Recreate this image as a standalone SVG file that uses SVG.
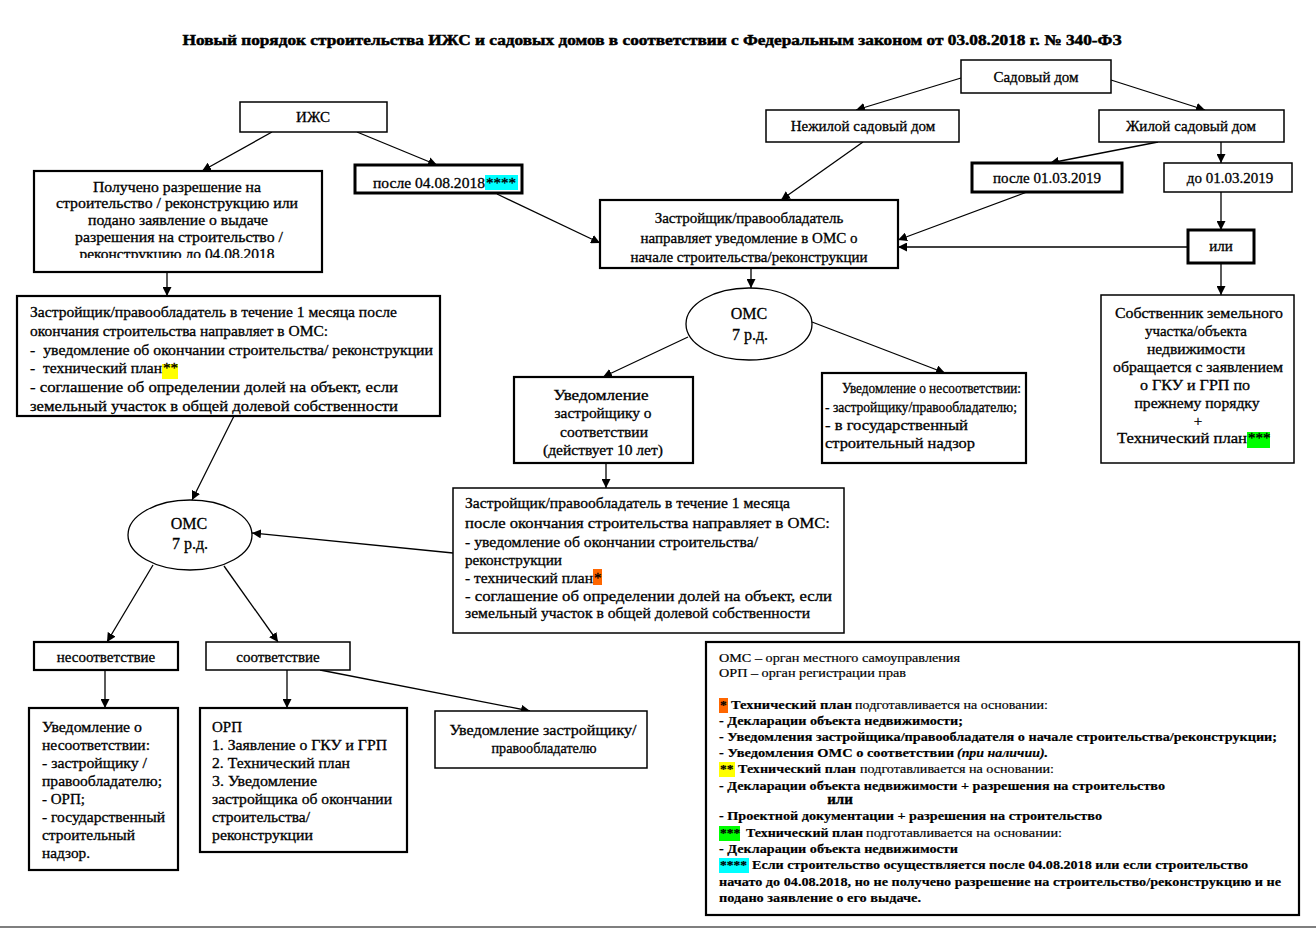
<svg xmlns="http://www.w3.org/2000/svg" width="1316" height="930" viewBox="0 0 1316 930">
<style>
text{font-family:"Liberation Serif","Times New Roman",serif;font-size:15px;fill:#000;stroke:#000;stroke-width:0.3}
.c{text-anchor:middle}
.b{font-weight:bold}
.i{font-style:italic}
.box{fill:#fff;stroke:#000;stroke-width:1.5}
.box2{fill:#fff;stroke:#000;stroke-width:2.2}
.thick{fill:#fff;stroke:#000;stroke-width:3}
.ell{fill:#fff;stroke:#000;stroke-width:1.3}
.con line{stroke:#000;stroke-width:1.3;marker-end:url(#ah)}
.lg{font-size:13.5px;stroke-width:0.2}
.om{font-size:16px}
.ttl{stroke-width:0.5}
</style>
<defs>
<marker id="ah" viewBox="0 0 10 10" refX="10" refY="5" markerWidth="9" markerHeight="9" markerUnits="userSpaceOnUse" orient="auto"><path d="M0,0 L10,5 L0,10 z" fill="#000"/></marker>
<clipPath id="clipP"><rect x="34" y="171" width="288" height="87"/></clipPath>
</defs>
<rect x="0" y="0" width="1316" height="930" fill="#fff"/>
<text class="c b ttl" x="652" y="45" font-size="17" textLength="939" lengthAdjust="spacingAndGlyphs">Новый порядок строительства ИЖС и садовых домов в соответствии с Федеральным законом от 03.08.2018 г. № 340-ФЗ</text>
<line x1="0" y1="927" x2="1316" y2="927" stroke="#555" stroke-width="1.5"/>

<g id="connectors" class="con">
<line x1="272" y1="132" x2="202" y2="171"/>
<line x1="357" y1="132" x2="437" y2="165"/>
<line x1="497" y1="194" x2="600" y2="243"/>
<line x1="961" y1="78" x2="856" y2="110"/>
<line x1="1111" y1="80" x2="1205" y2="110"/>
<line x1="863" y1="142" x2="781" y2="200"/>
<line x1="1158" y1="142" x2="1050" y2="163"/>
<line x1="1221" y1="142" x2="1221" y2="163"/>
<line x1="1027" y1="192" x2="898" y2="240"/>
<line x1="1221" y1="192" x2="1221" y2="230"/>
<line x1="1188" y1="247" x2="898" y2="247"/>
<line x1="1221" y1="263" x2="1221" y2="295"/>
<line x1="751" y1="268" x2="751" y2="288"/>
<line x1="688" y1="337" x2="603" y2="377"/>
<line x1="812" y1="322" x2="945" y2="373"/>
<line x1="606" y1="463" x2="606" y2="488"/>
<line x1="453" y1="553" x2="252" y2="533"/>
<line x1="167" y1="272" x2="167" y2="296"/>
<line x1="234" y1="416" x2="192" y2="500"/>
<line x1="153" y1="565" x2="107" y2="642"/>
<line x1="224" y1="566" x2="278" y2="642"/>
<line x1="105" y1="670" x2="105" y2="708"/>
<line x1="287" y1="670" x2="287" y2="708"/>
<line x1="320" y1="670" x2="530" y2="711"/>
</g>

<g id="sad"><rect class="box" x="961" y="60" width="150" height="33"/><text class="c" x="1036" y="82">Садовый дом</text></g>
<g id="nezh"><rect class="box" x="766" y="110" width="193" height="32"/><text class="c" x="863" y="131">Нежилой садовый дом</text></g>
<g id="zhil"><rect class="box" x="1099" y="110" width="185" height="32"/><text class="c" x="1191" y="131">Жилой садовый дом</text></g>
<g id="posle2019"><rect class="thick" x="972" y="163" width="150" height="29"/><text class="c" x="1047" y="183">после 01.03.2019</text></g>
<g id="do2019"><rect class="box" x="1164" y="163" width="128" height="29"/><text class="c" x="1230" y="183">до 01.03.2019</text></g>
<g id="ili"><rect class="thick" x="1188" y="230" width="66" height="33"/><text class="c" x="1221" y="251">или</text></g>
<g id="zastr"><rect class="box2" x="600" y="200" width="298" height="68"/>
<text class="c" x="749" y="223">Застройщик/правообладатель</text>
<text class="c" x="749" y="243">направляет уведомление в ОМС о</text>
<text class="c" x="749" y="262">начале строительства/реконструкции</text></g>
<g id="izhs"><rect class="box" x="240" y="102" width="147" height="30"/><text class="c" x="313" y="122">ИЖС</text></g>
<g id="posle2018"><rect class="thick" x="355" y="165" width="167" height="28"/><rect x="485" y="175" width="33" height="15" fill="#00ffff"/><text x="373" y="188" textLength="112" lengthAdjust="spacingAndGlyphs">после 04.08.2018</text><text x="486" y="188">****</text></g>
<g id="poluch"><rect class="box2" x="34" y="171" width="288" height="101"/>
<g clip-path="url(#clipP)">
<text class="c" x="177" y="192" textLength="168" lengthAdjust="spacingAndGlyphs">Получено разрешение на</text>
<text class="c" x="177" y="208" textLength="242" lengthAdjust="spacingAndGlyphs">строительство / реконструкцию или</text>
<text class="c" x="178" y="225" textLength="180" lengthAdjust="spacingAndGlyphs">подано заявление о выдаче</text>
<text class="c" x="179" y="242" textLength="208" lengthAdjust="spacingAndGlyphs">разрешения на строительство /</text>
<text class="c" x="177" y="259" textLength="195" lengthAdjust="spacingAndGlyphs">реконструкцию до 04.08.2018</text>
</g></g>
<g id="midleft"><rect class="box2" x="17" y="296" width="423" height="120"/>
<rect x="162" y="364" width="16" height="15" fill="#ffff00"/>
<text x="30" y="317" textLength="367" lengthAdjust="spacingAndGlyphs">Застройщик/правообладатель в течение 1 месяца после</text>
<text x="30" y="336" textLength="298" lengthAdjust="spacingAndGlyphs">окончания строительства направляет в ОМС:</text>
<text x="30" y="355" xml:space="preserve" textLength="403" lengthAdjust="spacingAndGlyphs">-  уведомление об окончании строительства/ реконструкции</text>
<text x="30" y="373" xml:space="preserve" textLength="132" lengthAdjust="spacingAndGlyphs">-  технический план</text><text x="163" y="373">**</text>
<text x="30" y="392" textLength="368" lengthAdjust="spacingAndGlyphs">- соглашение об определении долей на объект, если</text>
<text x="30" y="411" textLength="368" lengthAdjust="spacingAndGlyphs">земельный участок в общей долевой собственности</text></g>
<g id="omc1"><ellipse class="ell" cx="749" cy="324" rx="63" ry="36"/><text class="c om" x="749" y="319">ОМС</text><text class="c om" x="750" y="340">7 р.д.</text></g>
<g id="uvedsoot"><rect class="box2" x="514" y="377" width="179" height="86"/>
<text class="c" x="601" y="400" textLength="95" lengthAdjust="spacingAndGlyphs">Уведомление</text>
<text class="c" x="603" y="418" textLength="97" lengthAdjust="spacingAndGlyphs">застройщику о</text>
<text class="c" x="604" y="437" textLength="88" lengthAdjust="spacingAndGlyphs">соответствии</text>
<text class="c" x="603" y="455" textLength="120" lengthAdjust="spacingAndGlyphs">(действует 10 лет)</text></g>
<g id="uvednesoot"><rect class="box2" x="822" y="373" width="204" height="90"/>
<text x="842" y="393" textLength="179" lengthAdjust="spacingAndGlyphs">Уведомление о несоответствии:</text>
<text x="825" y="412" textLength="192" lengthAdjust="spacingAndGlyphs">- застройщику/правообладателю;</text>
<text x="825" y="430" textLength="143" lengthAdjust="spacingAndGlyphs">- в государственный</text>
<text x="825" y="448" textLength="150" lengthAdjust="spacingAndGlyphs">строительный надзор</text></g>
<g id="lowercenter"><rect class="box" x="453" y="488" width="391" height="145"/>
<rect x="593" y="569" width="9" height="16" fill="#ff6600"/>
<text x="465" y="508" textLength="325" lengthAdjust="spacingAndGlyphs">Застройщик/правообладатель в течение 1 месяца</text>
<text x="465" y="528" textLength="365" lengthAdjust="spacingAndGlyphs">после окончания строительства направляет в ОМС:</text>
<text x="465" y="547" textLength="293" lengthAdjust="spacingAndGlyphs">- уведомление об окончании строительства/</text>
<text x="465" y="565" textLength="97" lengthAdjust="spacingAndGlyphs">реконструкции</text>
<text x="465" y="583" textLength="128" lengthAdjust="spacingAndGlyphs">- технический план</text><text x="594" y="583">*</text>
<text x="465" y="601" textLength="367" lengthAdjust="spacingAndGlyphs">- соглашение об определении долей на объект, если</text>
<text x="465" y="618" textLength="345" lengthAdjust="spacingAndGlyphs">земельный участок в общей долевой собственности</text></g>
<g id="omc2"><ellipse class="ell" cx="190" cy="535" rx="62" ry="35"/><text class="c om" x="189" y="529">ОМС</text><text class="c om" x="190" y="549">7 р.д.</text></g>
<g id="nesoot"><rect class="box2" x="34" y="642" width="144" height="28"/><text class="c" x="106" y="662">несоответствие</text></g>
<g id="soot"><rect class="box" x="206" y="642" width="144" height="28"/><text class="c" x="278" y="662">соответствие</text></g>
<g id="uvedbl"><rect class="box2" x="29" y="708" width="149" height="162"/>
<text x="42" y="732" textLength="100" lengthAdjust="spacingAndGlyphs">Уведомление о</text>
<text x="42" y="750" textLength="108" lengthAdjust="spacingAndGlyphs">несоответствии:</text>
<text x="42" y="768" textLength="105" lengthAdjust="spacingAndGlyphs">- застройщику /</text>
<text x="42" y="786" textLength="120" lengthAdjust="spacingAndGlyphs">правообладателю;</text>
<text x="42" y="804" textLength="43" lengthAdjust="spacingAndGlyphs">- ОРП;</text>
<text x="42" y="822" textLength="123" lengthAdjust="spacingAndGlyphs">- государственный</text>
<text x="42" y="840" textLength="93" lengthAdjust="spacingAndGlyphs">строительный</text>
<text x="42" y="858" textLength="48" lengthAdjust="spacingAndGlyphs">надзор.</text></g>
<g id="orp"><rect class="box2" x="200" y="708" width="207" height="144"/>
<text x="212" y="732" textLength="30" lengthAdjust="spacingAndGlyphs">ОРП</text>
<text x="212" y="750" textLength="175" lengthAdjust="spacingAndGlyphs">1. Заявление о ГКУ и ГРП</text>
<text x="212" y="768" textLength="138" lengthAdjust="spacingAndGlyphs">2. Технический план</text>
<text x="212" y="786" textLength="105" lengthAdjust="spacingAndGlyphs">3. Уведомление</text>
<text x="212" y="804" textLength="180" lengthAdjust="spacingAndGlyphs">застройщика об окончании</text>
<text x="212" y="822" textLength="98" lengthAdjust="spacingAndGlyphs">строительства/</text>
<text x="212" y="840" textLength="101" lengthAdjust="spacingAndGlyphs">реконструкции</text></g>
<g id="uvedzp"><rect class="box" x="435" y="711" width="212" height="57"/>
<text class="c" x="543" y="735" textLength="187" lengthAdjust="spacingAndGlyphs">Уведомление застройщику/</text>
<text class="c" x="544" y="753" textLength="105" lengthAdjust="spacingAndGlyphs">правообладателю</text></g>
<g id="sobstv"><rect class="box" x="1101" y="295" width="193" height="168"/>
<rect x="1247" y="432" width="23" height="16" fill="#00ff00"/>
<text class="c" x="1199" y="318" textLength="168" lengthAdjust="spacingAndGlyphs">Собственник земельного</text>
<text class="c" x="1196" y="336" textLength="102" lengthAdjust="spacingAndGlyphs">участка/объекта</text>
<text class="c" x="1196" y="354" textLength="98" lengthAdjust="spacingAndGlyphs">недвижимости</text>
<text class="c" x="1198" y="372" textLength="170" lengthAdjust="spacingAndGlyphs">обращается с заявлением</text>
<text class="c" x="1195" y="390" textLength="110" lengthAdjust="spacingAndGlyphs">о ГКУ и ГРП по</text>
<text class="c" x="1197" y="408" textLength="125" lengthAdjust="spacingAndGlyphs">прежнему порядку</text>
<text class="c" x="1198" y="426">+</text>
<text x="1117" y="443" textLength="130" lengthAdjust="spacingAndGlyphs">Технический план</text><text x="1248" y="443">***</text></g>
<g id="legend"><rect class="box2" x="706" y="642" width="593" height="273"/>
<rect x="719" y="698" width="9" height="15" fill="#ff6600"/>
<rect x="719" y="762" width="16" height="15" fill="#ffff00"/>
<rect x="719" y="826" width="21" height="15" fill="#00ff00"/>
<rect x="719" y="858" width="30" height="15" fill="#00ffff"/>
<text class="lg" x="719" y="662" textLength="241" lengthAdjust="spacingAndGlyphs">ОМС – орган местного самоуправления</text>
<text class="lg" x="719" y="677" textLength="187" lengthAdjust="spacingAndGlyphs">ОРП – орган регистрации прав</text>
<text class="lg b" x="720" y="709">*</text>
<text class="lg b" x="731" y="709" textLength="121" lengthAdjust="spacingAndGlyphs">Технический план</text>
<text class="lg" x="855" y="709" textLength="193" lengthAdjust="spacingAndGlyphs">подготавливается на основании:</text>
<text class="lg b" x="719" y="725" textLength="244" lengthAdjust="spacingAndGlyphs">- Декларации объекта недвижимости;</text>
<text class="lg b" x="719" y="741" textLength="558" lengthAdjust="spacingAndGlyphs">- Уведомления застройщика/правообладателя о начале строительства/реконструкции;</text>
<text class="lg b" x="719" y="757" textLength="235" lengthAdjust="spacingAndGlyphs">- Уведомления ОМС о соответствии</text>
<text class="lg b i" x="957" y="757" textLength="91" lengthAdjust="spacingAndGlyphs">(при наличии).</text>
<text class="lg b" x="720" y="773">**</text>
<text class="lg b" x="738" y="773" textLength="118" lengthAdjust="spacingAndGlyphs">Технический план</text>
<text class="lg" x="860" y="773" textLength="194" lengthAdjust="spacingAndGlyphs">подготавливается на основании:</text>
<text class="lg b" x="719" y="790" textLength="446" lengthAdjust="spacingAndGlyphs">- Декларации объекта недвижимости + разрешения на строительство</text>
<text class="b c" x="840" y="804" font-size="10">или</text>
<text class="lg b" x="719" y="820" textLength="383" lengthAdjust="spacingAndGlyphs">- Проектной документации + разрешения на строительство</text>
<text class="lg b" x="720" y="837">***</text>
<text class="lg b" x="746" y="837" textLength="117" lengthAdjust="spacingAndGlyphs">Технический план</text>
<text class="lg" x="866" y="837" textLength="196" lengthAdjust="spacingAndGlyphs">подготавливается на основании:</text>
<text class="lg b" x="719" y="853" textLength="239" lengthAdjust="spacingAndGlyphs">- Декларации объекта недвижимости</text>
<text class="lg b" x="720" y="869">****</text>
<text class="lg b" x="752" y="869" textLength="496" lengthAdjust="spacingAndGlyphs">Если строительство осуществляется после 04.08.2018 или если строительство</text>
<text class="lg b" x="719" y="886" textLength="562" lengthAdjust="spacingAndGlyphs">начато до 04.08.2018, но не получено разрешение на строительство/реконструкцию и не</text>
<text class="lg b" x="719" y="902" textLength="202" lengthAdjust="spacingAndGlyphs">подано заявление о его выдаче.</text></g>
</svg>
